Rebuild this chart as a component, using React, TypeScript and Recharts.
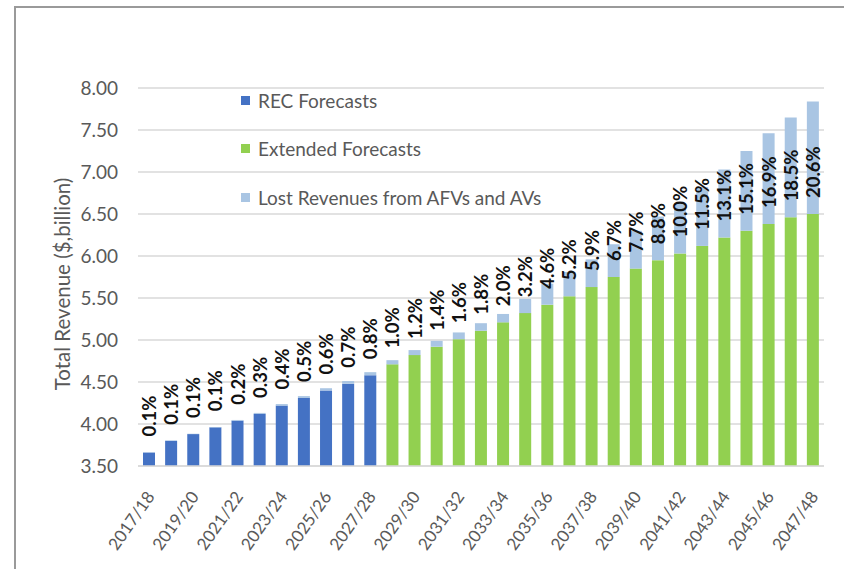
import React from 'react';
import {
  BarChart,
  Bar,
  XAxis,
  YAxis,
  CartesianGrid,
  Legend,
  LabelList,
} from 'recharts';

// fiscal years, 2017/18 .. 2047/48
const years = [
  '2017/18', '2018/19', '2019/20', '2020/21', '2021/22', '2022/23', '2023/24', '2024/25',
  '2025/26', '2026/27', '2027/28', '2028/29', '2029/30', '2030/31', '2031/32', '2032/33',
  '2033/34', '2034/35', '2035/36', '2036/37', '2037/38', '2038/39', '2039/40', '2040/41',
  '2041/42', '2042/43', '2043/44', '2044/45', '2045/46', '2046/47', '2047/48',
];

const recForecasts = [
  3.66, 3.80, 3.88, 3.96, 4.04, 4.12, 4.22, 4.31, 4.40, 4.48, 4.58,
  null, null, null, null, null, null, null, null, null, null, null, null, null, null, null, null, null, null, null, null,
];

const extendedForecasts = [
  null, null, null, null, null, null, null, null, null, null, null,
  4.71, 4.82, 4.92, 5.01, 5.11, 5.21, 5.32, 5.42, 5.52, 5.63, 5.75, 5.85, 5.95, 6.03, 6.12, 6.22, 6.30, 6.38, 6.46, 6.50,
];

const lostRevenues = [
  0.004, 0.004, 0.004, 0.004, 0.008, 0.012, 0.017, 0.022, 0.026, 0.031, 0.037,
  0.05, 0.06, 0.07, 0.08, 0.09, 0.10, 0.17, 0.25, 0.29, 0.33, 0.39, 0.45, 0.52, 0.60, 0.70, 0.81, 0.95, 1.08, 1.19, 1.34,
];

const lostPct = [
  '0.1%', '0.1%', '0.1%', '0.1%', '0.2%', '0.3%', '0.4%', '0.5%', '0.6%', '0.7%', '0.8%',
  '1.0%', '1.2%', '1.4%', '1.6%', '1.8%', '2.0%', '3.2%', '4.6%', '5.2%', '5.9%', '6.7%', '7.7%', '8.8%',
  '10.0%', '11.5%', '13.1%', '15.1%', '16.9%', '18.5%', '20.6%',
];

const yTicks = [3.5, 4, 4.5, 5, 5.5, 6, 6.5, 7, 7.5, 8];

const seriesNames = ['REC Forecasts', 'Extended Forecasts', 'Lost Revenues from AFVs and AVs'];
const seriesColors = ['#4472C4', '#92D050', '#A9C5E3'];

const data = years.map((year, i) => ({
  year,
  rec: recForecasts[i],
  extended: extendedForecasts[i],
  lost: lostRevenues[i],
  pct: lostPct[i],
}));

const FONT = 'Lato, "Open Sans", sans-serif';
const GREY = '#595959';

const PctLabel = (props: any) => {
  const { x, y, width, height, value } = props;
  const cx = x + width / 2;
  const by = y + height - 16;
  return (
    <text
      x={cx}
      y={by}
      transform={`rotate(-90 ${cx} ${by})`}
      textAnchor="start"
      dominantBaseline="central"
      fontFamily={FONT}
      fontWeight="bold"
      fontSize={18.5}
      fill="#111"
    >
      {value}
    </text>
  );
};

const YearTick = (props: any) => {
  const { x, y, payload } = props;
  const tx = x + 1;
  return (
    <text
      x={tx}
      y={y}
      transform={`rotate(-55 ${tx} ${y})`}
      textAnchor="end"
      dominantBaseline="central"
      fontFamily={FONT}
      fontSize={17}
      fill={GREY}
    >
      {payload.value}
    </text>
  );
};

const LegendBox = () => (
  <div style={{ fontFamily: FONT, fontSize: 19, color: GREY }}>
    {seriesNames.map((name, i) => (
      <div key={name} style={{ display: 'flex', alignItems: 'center', height: 48.5 }}>
        <span style={{ width: 9, height: 9, background: seriesColors[i], marginRight: 8 }} />
        {name}
      </div>
    ))}
  </div>
);

export default function App() {
  return (
    <div style={{ position: 'absolute', left: 0, top: 0, width: 844, height: 569, background: '#fff', overflow: 'hidden' }}>
      <div
        style={{
          position: 'absolute',
          left: 14,
          top: 6,
          width: 900,
          height: 700,
          borderLeft: '2px solid #9a9a9a',
          borderTop: '2px solid #9a9a9a',
        }}
      />
      <div style={{ position: 'absolute', left: 0, top: 0 }}>
        <BarChart
          width={844}
          height={569}
          data={data}
          margin={{ top: 88, right: 20, left: 0, bottom: 13 }}
          barSize={12}
        >
          <CartesianGrid vertical={false} stroke="#d9d9d9" strokeWidth={1.5} />
          <XAxis
            dataKey="year"
            interval={1}
            height={90}
            tickLine={false}
            tickSize={0}
            tickMargin={27}
            axisLine={{ stroke: '#d9d9d9', strokeWidth: 1.5 }}
            tick={<YearTick />}
          />
          <YAxis
            width={138}
            domain={[3.5, 8]}
            ticks={yTicks}
            allowDataOverflow
            axisLine={false}
            tickLine={false}
            tickSize={0}
            tickMargin={20}
            tickFormatter={(v: number) => v.toFixed(2)}
            tick={{ fontFamily: FONT, fontSize: 19, fill: GREY }}
            label={{
              content: () => (
                <text
                  x={62}
                  y={284}
                  transform="rotate(-90 62 284)"
                  textAnchor="middle"
                  dominantBaseline="central"
                  fontFamily={FONT}
                  fontSize={20.5}
                  fill={GREY}
                >
                  Total Revenue ($,billion)
                </text>
              ),
            }}
          />
          <Legend
            layout="vertical"
            align="center"
            verticalAlign="middle"
            wrapperStyle={{ left: 241, top: 76, width: 'auto' }}
            content={<LegendBox />}
          />
          <Bar dataKey="rec" name={seriesNames[0]} stackId="a" fill={seriesColors[0]} isAnimationActive={false} />
          <Bar dataKey="extended" name={seriesNames[1]} stackId="a" fill={seriesColors[1]} isAnimationActive={false} />
          <Bar dataKey="lost" name={seriesNames[2]} stackId="a" fill={seriesColors[2]} isAnimationActive={false}>
            <LabelList dataKey="pct" content={<PctLabel />} />
          </Bar>
        </BarChart>
      </div>
    </div>
  );
}
